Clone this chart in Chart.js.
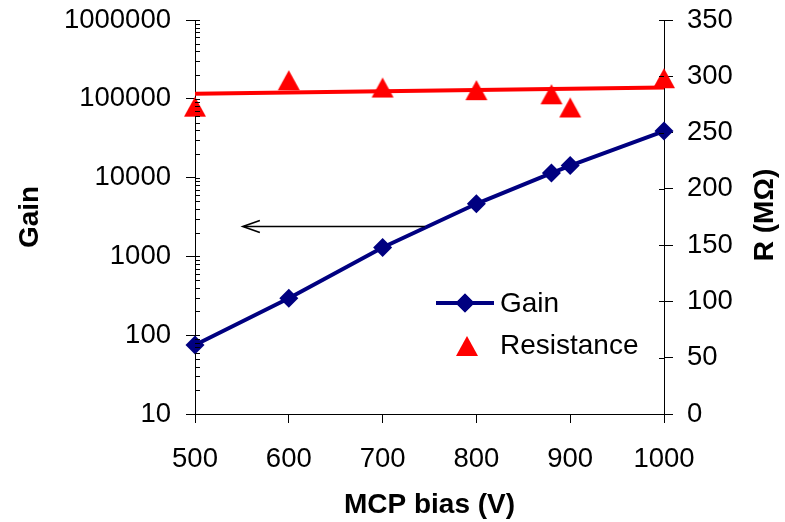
<!DOCTYPE html>
<html>
<head>
<meta charset="utf-8">
<script src="https://cdn.jsdelivr.net/npm/chart.js@4.4.1/dist/chart.umd.min.js"></script>
<style>
  html, body { margin: 0; padding: 0; background: #fff; }
  #wrap { width: 785px; height: 522px; }
</style>
</head>
<body>
<div id="wrap"><canvas id="chart" width="785" height="522"></canvas></div>
<script>
/* ── data ── */
const biasV = [500, 600, 700, 800, 880, 900, 1000];
const gainValues = [75, 295, 1300, 4650, 11400, 14200, 39000];
const resistanceValues = [273, 296.5, 290, 287.7, 284, 272.3, 298.3];
const trendBias = [500, 1000];
const trendResistance = [284.5, 290];
const xTicks = [500, 600, 700, 800, 900, 1000];
const gainTicks = [10, 100, 1000, 10000, 100000, 1000000];
const rTicks = [0, 50, 100, 150, 200, 250, 300, 350];
// arrow pointing at the Gain axis (bias from -> to, at this gain level)
const arrowBias = [745, 551];
const arrowGain = 2430;

const NAVY = '#000080';
const RED = '#ff0000';
const FONT = '"Liberation Sans", Arial, Helvetica, sans-serif';

Chart.defaults.font.family = FONT;
Chart.defaults.font.size = 27.5;
Chart.defaults.color = '#000';

/* triangle marker centred on its box, like the spreadsheet one */
function triangleMarker(w, h) {
    const c = document.createElement('canvas');
    c.width = w + 2;
    c.height = h + 2;
    const g = c.getContext('2d');
    g.fillStyle = RED;
    g.beginPath();
    g.moveTo(c.width / 2, 1);
    g.lineTo(w + 1, h + 1);
    g.lineTo(1, h + 1);
    g.closePath();
    g.fill();
    return c;
}
const tri = triangleMarker(22, 20);

const axisExtras = {
    id: 'axisExtras',
    afterDraw(chart) {
        const { ctx, chartArea: a, scales } = chart;
        const yG = scales.yGain, yR = scales.yRes;
        ctx.save();
        ctx.strokeStyle = '#000';
        ctx.lineWidth = 1;
        ctx.beginPath();
        // inner tick stubs on the log axis, majors and minors
        for (const d of gainTicks) {
            for (let k = 1; k <= 9; k++) {
                const v = d * k;
                if (v > 1000000) break;
                const y = Math.round(yG.getPixelForValue(v)) + 0.5;
                ctx.moveTo(a.left, y);
                ctx.lineTo(a.left + 5, y);
            }
        }
        for (const v of rTicks) {
            const y = Math.round(yR.getPixelForValue(v)) + 0.5;
            ctx.moveTo(a.right - 5, y);
            ctx.lineTo(a.right, y);
        }
        ctx.stroke();

        // arrow
        const ax1 = scales.x.getPixelForValue(arrowBias[0]);
        const ax2 = scales.x.getPixelForValue(arrowBias[1]);
        const ay = Math.round(yG.getPixelForValue(arrowGain)) + 0.5;
        ctx.lineWidth = 1.6;
        ctx.beginPath();
        ctx.moveTo(ax1, ay);
        ctx.lineTo(ax2 + 1, ay);
        ctx.stroke();
        ctx.beginPath();
        ctx.moveTo(ax2 + 17, ay - 6);
        ctx.lineTo(ax2, ay);
        ctx.lineTo(ax2 + 17, ay + 6);
        ctx.stroke();

        // right axis title, reading upwards
        ctx.fillStyle = '#000';
        ctx.font = 'bold 28px ' + FONT;
        ctx.textAlign = 'center';
        ctx.textBaseline = 'middle';
        ctx.translate(765, (a.top + a.bottom) / 2 - 2);
        ctx.rotate(-Math.PI / 2);
        ctx.fillText('R (MΩ)', 0, 0);
        ctx.restore();

        // legend inside the plot
        const lx = a.left + 241, gy = a.top + 283, ry = a.top + 326;
        ctx.save();
        ctx.strokeStyle = NAVY;
        ctx.lineWidth = 4;
        ctx.beginPath();
        ctx.moveTo(lx, gy);
        ctx.lineTo(lx + 58, gy);
        ctx.stroke();
        Chart.helpers.drawPoint(ctx, { pointStyle: 'rectRot', radius: 9.5, borderWidth: 0 }, lx + 29, gy);
        ctx.fillStyle = NAVY;
        ctx.fill();
        ctx.drawImage(tri, lx + 31 - tri.width / 2, ry - tri.height / 2);
        ctx.fillStyle = '#000';
        ctx.font = '28px ' + FONT;
        ctx.textAlign = 'left';
        ctx.textBaseline = 'middle';
        ctx.fillText(chart.data.datasets[0].label, lx + 64, gy + 1);
        ctx.fillText(chart.data.datasets[1].label, lx + 64, ry);
        ctx.restore();
    }
};

const axisLine = { display: true, color: '#000', width: 1 };
// y axes: fixed width, and no extra room above/below for the end labels
const fixY = w => s => { s.width = w; s.paddingTop = 0; s.paddingBottom = 0; };

new Chart(document.getElementById('chart'), {
    type: 'line',
    data: {
        datasets: [
            {
                label: 'Gain',
                data: biasV.map((x, i) => ({ x, y: gainValues[i] })),
                yAxisID: 'yGain',
                borderColor: NAVY,
                backgroundColor: NAVY,
                borderWidth: 4,
                pointStyle: 'rectRot',
                pointRadius: 9.5,
                pointBorderWidth: 0,
                pointBackgroundColor: NAVY,
                tension: 0,
                clip: false,
            },
            {
                label: 'Resistance',
                data: biasV.map((x, i) => ({ x, y: resistanceValues[i] })),
                yAxisID: 'yRes',
                showLine: false,
                pointStyle: tri,
                pointRadius: 11,
                clip: false,
            },
            {
                label: 'Resistance fit',
                data: trendBias.map((x, i) => ({ x, y: trendResistance[i] })),
                yAxisID: 'yRes',
                borderColor: RED,
                borderWidth: 4,
                pointRadius: 0,
                clip: false,
            },
        ],
    },
    options: {
        responsive: false,
        animation: false,
        events: [],
        layout: { padding: { top: 20, left: 0, right: 0, bottom: 0 } },
        plugins: { legend: { display: false }, tooltip: { enabled: false } },
        scales: {
            x: {
                type: 'linear',
                min: 500,
                max: 1000,
                afterBuildTicks: s => { s.ticks = xTicks.map(v => ({ value: v })); },
                afterFit: s => { s.height = 108; },
                ticks: { padding: 20, callback: v => String(v) },
                grid: { drawOnChartArea: false, tickLength: 9, tickColor: '#000' },
                border: axisLine,
                title: { display: true, text: 'MCP bias (V)', font: { size: 28, weight: 'bold' }, padding: { top: 0, bottom: 0 } },
            },
            yGain: {
                type: 'logarithmic',
                axis: 'y',
                position: 'left',
                min: 10,
                max: 1000000,
                afterBuildTicks: s => { s.ticks = gainTicks.map(v => ({ value: v })); },
                afterFit: fixY(195),
                ticks: { padding: 15, autoSkip: false, callback: v => String(v) },
                grid: { drawOnChartArea: false, tickLength: 9, tickColor: '#000' },
                border: axisLine,
                title: { display: true, text: 'Gain', font: { size: 28, weight: 'bold' }, padding: { top: 13, bottom: 0 } },
            },
            yRes: {
                type: 'linear',
                axis: 'y',
                position: 'right',
                min: 0,
                max: 350,
                afterBuildTicks: s => { s.ticks = rTicks.map(v => ({ value: v })); },
                afterFit: fixY(121),
                ticks: { padding: 14 },
                grid: { drawOnChartArea: false, tickLength: 9, tickColor: '#000' },
                border: axisLine,
            },
        },
    },
    plugins: [axisExtras],
});
</script>
</body>
</html>
